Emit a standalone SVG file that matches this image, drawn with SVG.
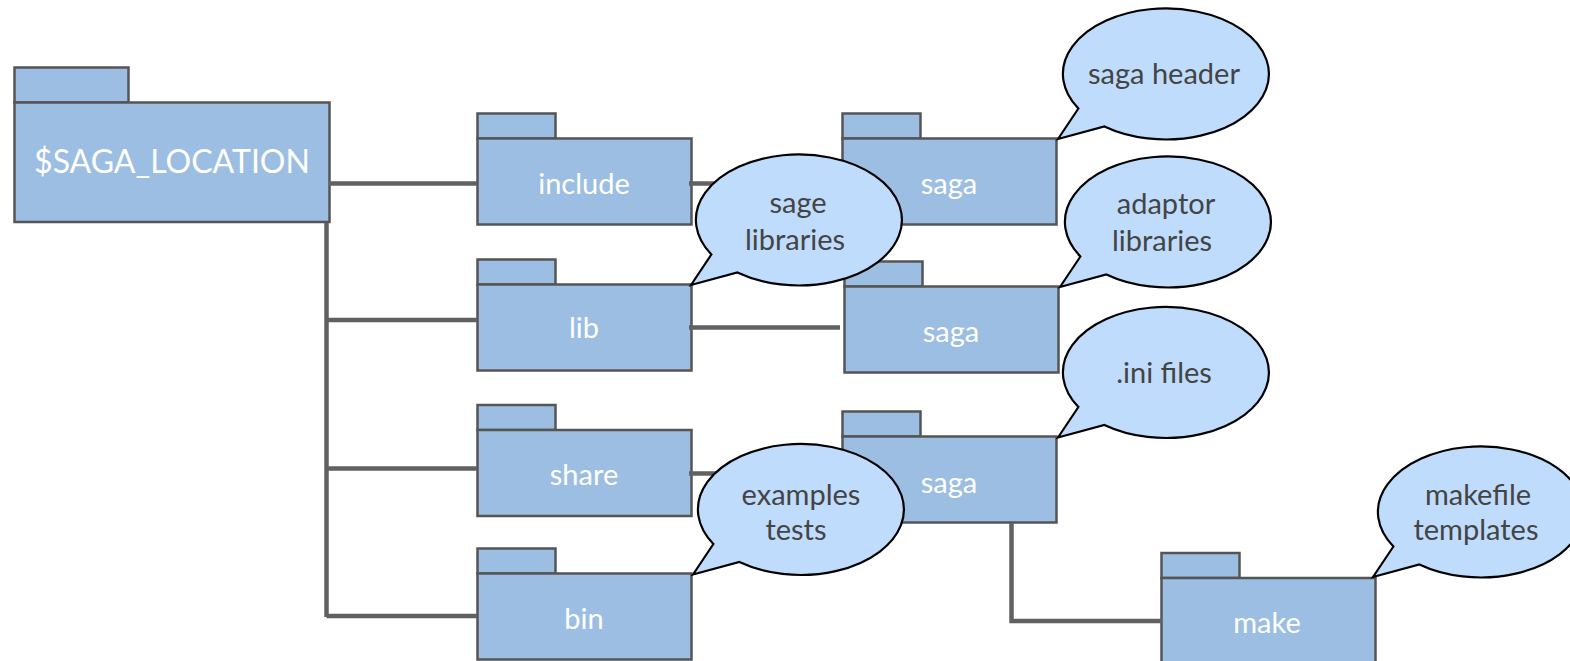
<svg xmlns="http://www.w3.org/2000/svg" width="1570" height="661" viewBox="0 0 1570 661">
<style>
.f{fill:#9cbee3;stroke:#555;stroke-width:2.500}
.b{fill:#bfdcfc;stroke:#000;stroke-width:2.200}
.c{fill:none;stroke:#616161;stroke-width:4.500}
text{font-family:"Lato","Liberation Sans",sans-serif;font-size:29px;text-anchor:middle}
.w{fill:#fff}
.d{fill:#444}
</style>
<defs>
<path id="bubble" d="M-108 65L-87.600 34.500A103 65.500 0 1 1 -61.600 52.500Z"/>
</defs>
<g id="folder-root"><rect class="f" x="14.500" y="67.500" width="114" height="35"/><rect class="f" x="14.500" y="102.500" width="315" height="119.500"/><text class="w" x="172" y="173" style="font-size:32px">$SAGA_LOCATION</text></g>
<g id="folder-include"><rect class="f" x="477.500" y="113.500" width="78" height="25"/><rect class="f" x="477.500" y="138.500" width="214" height="86"/><text class="w" x="584" y="194">include</text></g>
<g id="folder-lib"><rect class="f" x="477.500" y="259.500" width="78" height="25"/><rect class="f" x="477.500" y="284.500" width="214" height="86"/><text class="w" x="584" y="338">lib</text></g>
<g id="folder-share"><rect class="f" x="477.500" y="405" width="78" height="25"/><rect class="f" x="477.500" y="430" width="214" height="86"/><text class="w" x="584" y="485">share</text></g>
<g id="folder-bin"><rect class="f" x="477.500" y="548.500" width="78" height="25"/><rect class="f" x="477.500" y="573.500" width="214" height="86"/><text class="w" x="584" y="629">bin</text></g>
<g id="folder-saga1"><rect class="f" x="842.500" y="113.500" width="78" height="25"/><rect class="f" x="842.500" y="138.500" width="214" height="86"/><text class="w" x="949" y="194">saga</text></g>
<g id="folder-saga2"><rect class="f" x="844.500" y="261.500" width="78" height="25"/><rect class="f" x="844.500" y="286.500" width="214" height="86"/><text class="w" x="951" y="342">saga</text></g>
<g id="folder-saga3"><rect class="f" x="842.500" y="411.500" width="78" height="25"/><rect class="f" x="842.500" y="436.500" width="214" height="86"/><text class="w" x="949" y="493">saga</text></g>
<g id="folder-make"><rect class="f" x="1161.500" y="553" width="78" height="25"/><rect class="f" x="1161.500" y="578" width="214" height="90"/><text class="w" x="1267" y="633">make</text></g>
<g id="connectors" class="c">
<path d="M329 183.500H477"/>
<path d="M326.500 223V617"/>
<path d="M326.500 320H477"/>
<path d="M326.500 468.500H477"/>
<path d="M326.500 616H477"/>
<path d="M689 183.500H725"/>
<path d="M689 327.500H840"/>
<path d="M689 473.500H725"/>
<path d="M1011.500 523V621H1162"/>
</g>
<g id="bubble-saga-header"><use href="#bubble" class="b" x="1166" y="74"/><text class="d" x="1164" y="84">saga header</text></g>
<g id="bubble-sage-libraries"><use href="#bubble" class="b" x="799" y="220"/><text class="d" x="798" y="213">sage</text><text class="d" x="795" y="250">libraries</text></g>
<g id="bubble-adaptor-libraries"><use href="#bubble" class="b" x="1168" y="222"/><text class="d" x="1166" y="214">adaptor</text><text class="d" x="1162" y="251">libraries</text></g>
<g id="bubble-ini-files"><use href="#bubble" class="b" x="1166" y="372.500"/><text class="d" x="1164" y="383">.ini files</text></g>
<g id="bubble-examples-tests"><use href="#bubble" class="b" x="801" y="509.500"/><text class="d" x="801" y="505">examples</text><text class="d" x="796" y="540">tests</text></g>
<g id="bubble-makefile-templates"><use href="#bubble" class="b" x="1481" y="512"/><text class="d" x="1478" y="505">makefile</text><text class="d" x="1476" y="540">templates</text></g>
</svg>
